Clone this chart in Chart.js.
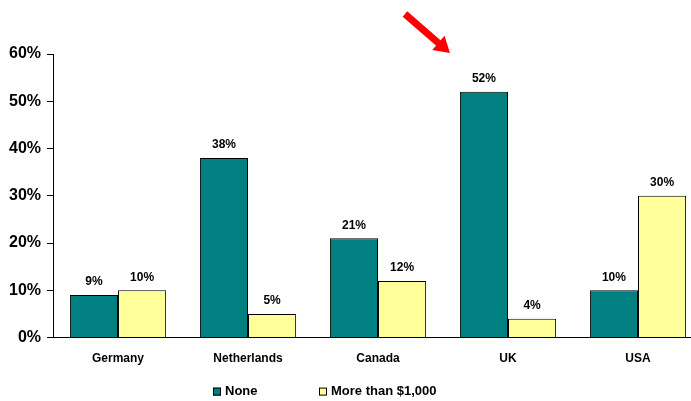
<!DOCTYPE html>
<html>
<head>
<meta charset="utf-8">
<script src="https://cdn.jsdelivr.net/npm/chart.js@4.4.0/dist/chart.umd.min.js"></script>
<style>
  html, body { margin: 0; padding: 0; background: #fff; overflow: hidden; }
  /* the plot runs a little past the right edge of the frame */
  #wrap { width: 691px; height: 401px; overflow: hidden; }
</style>
</head>
<body>
<div id="wrap"><canvas id="chart" width="706" height="401"></canvas></div>
<script>
const countries = ['Germany', 'Netherlands', 'Canada', 'UK', 'USA'];
const noneShare = [9, 38, 21, 52, 10];
const over1000Share = [10, 5, 12, 4, 30];
const yTicks = [0, 10, 20, 30, 40, 50, 60];

const FONT = 'Arial, "Liberation Sans", sans-serif';

// value labels above each bar
const barLabels = {
    id: 'barLabels',
    afterDatasetsDraw(chart) {
        const ctx = chart.ctx;
        ctx.save();
        ctx.font = `bold 12px ${FONT}`;
        ctx.fillStyle = '#000';
        ctx.textAlign = 'center';
        ctx.textBaseline = 'bottom';
        chart.data.datasets.forEach((ds, i) => {
            chart.getDatasetMeta(i).data.forEach((bar, j) => {
                ctx.fillText(ds.data[j] + '%', bar.x, bar.y - 7);
            });
        });
        ctx.restore();
    }
};

// legend row under the axis labels
const bottomLegend = {
    id: 'bottomLegend',
    afterDraw(chart) {
        const ctx = chart.ctx;
        const y = chart.chartArea.bottom + 54;
        const xs = [213, 319];
        ctx.save();
        ctx.font = `bold 13px ${FONT}`;
        ctx.textBaseline = 'middle';
        ctx.textAlign = 'left';
        chart.data.datasets.forEach((ds, i) => {
            ctx.fillStyle = ds.backgroundColor;
            ctx.fillRect(xs[i], y - 4, 8, 8);
            ctx.strokeStyle = '#000';
            ctx.lineWidth = 1;
            ctx.strokeRect(xs[i] + 0.5, y - 3.5, 7, 7);
            ctx.fillStyle = '#000';
            ctx.fillText(ds.label, xs[i] + 12, y);
        });
        ctx.restore();
    }
};

// red arrow pointing down at the UK "None" bar
const ukArrow = {
    id: 'ukArrow',
    afterDraw(chart) {
        const y = chart.scales.y;
        const idx = countries.indexOf('UK');
        const bar = chart.getDatasetMeta(0).data[idx];
        const tipX = bar.x - 34;
        const tipY = y.getPixelForValue(60) - 1;
        const tailX = tipX - 45, tailY = tipY - 39;
        const ang = Math.atan2(tipY - tailY, tipX - tailX);
        const ctx = chart.ctx;
        ctx.save();
        ctx.strokeStyle = '#ff0000';
        ctx.fillStyle = '#ff0000';
        ctx.lineWidth = 7;
        const headLen = 18;
        ctx.beginPath();
        ctx.moveTo(tailX, tailY);
        ctx.lineTo(tipX - headLen * 0.8 * Math.cos(ang), tipY - headLen * 0.8 * Math.sin(ang));
        ctx.stroke();
        ctx.beginPath();
        ctx.moveTo(tipX, tipY);
        ctx.lineTo(tipX - headLen * Math.cos(ang - 0.55), tipY - headLen * Math.sin(ang - 0.55));
        ctx.lineTo(tipX - headLen * Math.cos(ang + 0.55), tipY - headLen * Math.sin(ang + 0.55));
        ctx.closePath();
        ctx.fill();
        ctx.restore();
    }
};

new Chart(document.getElementById('chart'), {
    type: 'bar',
    data: {
        labels: countries,
        datasets: [
            { label: 'None', data: noneShare, backgroundColor: '#008080', borderColor: '#000', borderWidth: 1, categoryPercentage: 0.74, barPercentage: 1 },
            { label: 'More than $1,000', data: over1000Share, backgroundColor: '#ffff99', borderColor: '#000', borderWidth: 1, categoryPercentage: 0.74, barPercentage: 1 }
        ]
    },
    options: {
        responsive: false,
        animation: false,
        layout: { padding: { top: 54, right: 3, left: 3, bottom: 21 } },
        plugins: {
            tooltip: { enabled: false },
            legend: { display: false }
        },
        scales: {
            x: {
                grid: { display: false, drawTicks: false },
                border: { color: '#000', width: 1 },
                ticks: { font: { family: FONT, size: 12, weight: 'bold' }, color: '#000', padding: 14 }
            },
            y: {
                min: 0,
                max: 60,
                afterBuildTicks(axis) { axis.ticks = yTicks.map(v => ({ value: v })); },
                grid: { display: true, drawOnChartArea: false, drawTicks: true, tickLength: 6, color: '#000' },
                border: { color: '#000', width: 1 },
                ticks: { font: { family: FONT, size: 16, weight: 'bold' }, color: '#000', padding: 6, callback: v => v + '%' }
            }
        }
    },
    plugins: [barLabels, bottomLegend, ukArrow]
});
</script>
</body>
</html>
